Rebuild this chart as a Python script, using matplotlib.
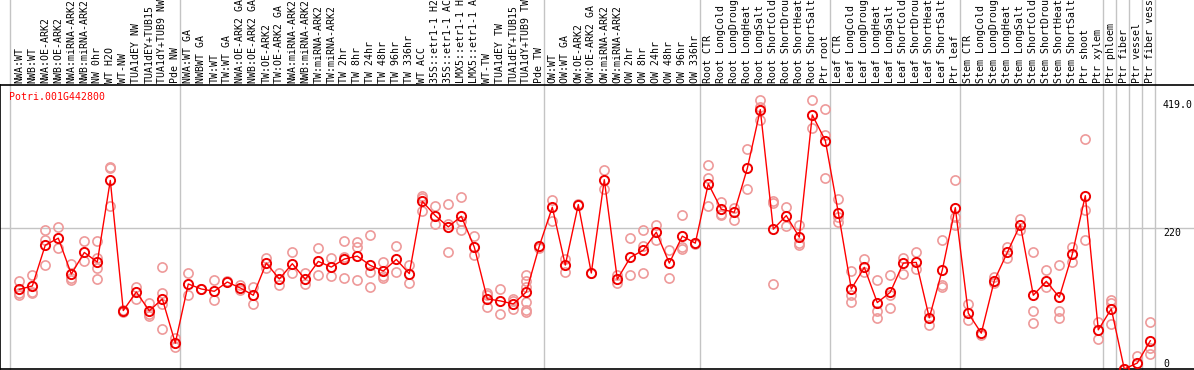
import matplotlib
matplotlib.use("Agg")
import matplotlib.pyplot as plt
import matplotlib.transforms as mtrans

# sample names, left to right (long names cut as in the source chart)
samples = [
    "NWA:WT", "NWB:WT", "NWA:OE-ARK2", "NWB:OE-ARK2", "NWA:miRNA-ARK2",
    "NWB:miRNA-ARK2", "NW 0hr", "WT H2O", "WT-NW", "TUA1dEY NW",
    "TUA1dEY+TUB15", "TUA1dY+TUB9 NW", "Pde NW", "NWA:WT GA", "NWBWT GA",
    "TW:WT", "TW:WT GA", "NWA:OE-ARK2 GA", "NWB:OE-ARK2 GA", "TW:OE-ARK2",
    "TW:OE-ARK2 GA", "NWA:miRNA-ARK2", "NWB:miRNA-ARK2", "TW:miRNA-ARK2",
    "TW:miRNA-ARK2", "TW 2hr", "TW 8hr", "TW 24hr", "TW 48hr", "TW 96hr",
    "TW 336hr", "WT ACC", "35S::etr1-1 H2", "35S::etr1-1 AC",
    "LMX5::etr1-1 H", "LMX5::etr1-1 A", "WT-TW", "TUA1dEY TW",
    "TUA1dEY+TUB15", "TUA1dY+TUB9 TW", "Pde TW", "OW:WT", "OW:WT GA",
    "OW:OE-ARK2", "OW:OE-ARK2 GA", "OW:miRNA-ARK2", "OW:miRNA-ARK2",
    "OW 2hr", "OW 8hr", "OW 24hr", "OW 48hr", "OW 96hr", "OW 336hr",
    "Root CTR", "Root LongCold", "Root LongDroug", "Root LongHeat",
    "Root LongSalt", "Root ShortCold", "Root ShortDrou", "Root ShortHeat",
    "Root ShortSalt", "Ptr root", "Leaf CTR", "Leaf LongCold",
    "Leaf LongDroug", "Leaf LongHeat", "Leaf LongSalt", "Leaf ShortCold",
    "Leaf ShortDrou", "Leaf ShortHeat", "Leaf ShortSalt", "Ptr leaf",
    "Stem CTR", "Stem LongCold", "Stem LongDroug", "Stem LongHeat",
    "Stem LongSalt", "Stem ShortCold", "Stem ShortDrou", "Stem ShortHeat",
    "Stem ShortSalt", "Ptr shoot", "Ptr xylem", "Ptr phloem", "Ptr fiber",
    "Ptr vessel", "Ptr fiber vess",
]

# median expression per sample
medians = [
    124.3, 129.5, 193.2, 204.1, 148.1, 181.8, 166.8, 294.2, 91.2, 120.2,
    90.7, 109.3, 40.4, 132.6, 124.8, 121.2, 135.7, 126.4, 115.0, 165.2,
    140.4, 164.2, 139.9, 167.8, 159.0, 171.5, 176.1, 161.6, 152.8, 170.9,
    148.7, 261.6, 239.3, 221.7, 238.3, 190.1, 109.3, 106.2, 101.5, 120.2,
    191.7, 252.3, 162.1, 256.4, 149.7, 295.3, 139.9, 174.0, 185.4, 213.4,
    165.2, 207.2, 196.3, 289.0, 249.2, 244.5, 312.9, 404.6, 218.1, 239.3,
    205.6, 396.3, 356.4, 244.0, 124.8, 158.5, 103.6, 119.7, 165.2, 166.3,
    79.8, 154.4, 251.7, 87.0, 55.9, 137.8, 181.8, 225.3, 115.0, 136.8,
    111.9, 179.2, 270.4, 61.1, 93.8, 0.0, 9.3, 44.0,
]

# individual replicates per sample
replicates = [
    [137.3, 118.1, 115.5], [146.6, 120.7, 119.1], [216.5, 201.0, 162.1],
    [221.2, 188.0], [163.7, 141.4, 138.8], [198.9, 167.8],
    [198.9, 172.5, 157.0, 139.9], [315.0, 313.9, 253.8], [92.2, 89.6],
    [128.5, 109.3], [102.6, 86.0, 83.4], [159.0, 119.1, 101.5, 62.7],
    [48.2, 34.2], [149.7, 115.5], [124.3], [138.8, 107.7], [137.8],
    [131.1, 123.3], [127.4, 101.0], [173.5, 157.0], [149.2, 131.1],
    [181.8, 149.7], [149.2, 132.1], [188.6, 146.1], [173.5, 145.0],
    [199.4, 175.1, 141.4], [198.4, 190.6, 138.3], [208.8, 150.7, 127.9],
    [166.8, 145.0, 141.4], [191.1, 150.7], [162.7, 133.6],
    [269.4, 267.3, 246.6], [253.8, 226.9], [256.9, 226.9, 181.8],
    [267.8, 230.5, 216.5], [207.2, 177.7], [118.1, 115.0, 97.4],
    [124.3, 86.0], [108.8, 106.2, 93.2],
    [146.1, 137.8, 128.5, 104.6, 92.2, 88.6], [190.6, 188.0],
    [263.1, 230.5], [172.0, 151.8], [256.9], [149.7], [309.8, 280.2],
    [146.6, 133.6], [203.6, 146.1], [216.5, 191.7, 149.7], [225.3, 200.5],
    [184.9, 141.4], [240.9, 190.6, 187.5], [196.8, 195.3],
    [317.5, 298.4, 253.8], [260.0, 242.4, 239.8], [251.7, 232.1],
    [343.4, 281.3], [419.0, 409.2, 388.5], [261.6, 259.5, 132.1],
    [252.3, 223.8], [224.3, 196.8, 193.7], [419.0, 375.6],
    [405.6, 365.2, 297.3], [264.7, 237.2, 229.5], [152.8, 115.5, 104.6],
    [171.5, 151.8], [138.8, 90.1, 80.3], [146.6, 115.5, 94.8],
    [173.5, 148.1], [181.8, 155.9], [89.6, 68.4], [202.0, 131.1, 127.4],
    [295.3, 237.2, 224.3], [101.0, 76.7], [53.4], [144.0, 134.7],
    [190.1, 172.5], [233.6, 217.6], [181.8, 90.7, 71.5], [153.8, 128.5],
    [162.1, 90.7, 80.3], [190.6, 167.3], [359.0, 248.6, 202.0],
    [73.6, 47.1], [107.7, 102.6, 69.9], [0.0, 0.0], [20.7],
    [73.0, 32.6, 23.3],
]

gene = "Potri.001G442800"
ytick_vals = [419.0, 220, 0]
ytick_text = ["419.0", "220", "0"]
# gridlines after these sample indices
group_ends = [12, 40, 52, 62, 72, 83, 84, 85, 86, 87]

W, H = 1194, 370
fig = plt.figure(figsize=(W / 100, H / 100), dpi=100)
ax_top, ax_bot = 85, 369
ax = fig.add_axes([0, (H - ax_bot) / H, 1, (ax_bot - ax_top) / H])

mono = "DejaVu Sans Mono"
fs = 7.1
grid_c = "#c4c4c4"

x = list(range(len(samples)))
ax.set_xlim(-19.3 / 13, (W - 19.3) / 13)
ax.set_ylim(0, 443)

# vertical separators run up through the label area
ext = ax_bot / (ax_bot - ax_top)
for g in [-0.72] + [e + 0.36 for e in group_ends]:
    ax.axvline(g, ymin=0, ymax=ext, color=grid_c, lw=1, clip_on=False, zorder=1)
ax.axhline(220, color=grid_c, lw=1, zorder=1)

# replicates
for i, reps in enumerate(replicates):
    ax.plot([i] * len(reps), reps, ls="none", marker="o", ms=6.6, mfc="none",
            mec="#ee9a9a", mew=1.2, zorder=2)

ax.plot(x, medians, color="#ff0000", lw=1, marker="o", ms=6.6, mfc="none",
        mec="#ee0000", mew=1.4, zorder=3)

# sample labels above the frame
lbl_tr = mtrans.blended_transform_factory(ax.transData, ax.transAxes)
off = mtrans.offset_copy(lbl_tr, fig=fig, x=0, y=2, units="dots")
for i, s in enumerate(samples):
    ax.text(i, 1, s, transform=off, rotation=90, ha="center", va="bottom",
            family=mono, fontsize=fs, color="black", clip_on=False)

# value labels on the right
rt = mtrans.blended_transform_factory(ax.transAxes, ax.transData)
for v, t in zip(ytick_vals, ytick_text):
    ax.text(1163 / W, v, t, transform=rt, ha="left",
            va="bottom" if v == 0 else "top", family=mono, fontsize=fs,
            color="black")

ax.text(9 / W, (ax_bot - 97) / (ax_bot - ax_top), gene, transform=ax.transAxes,
        ha="left", va="center", family=mono, fontsize=fs, color="#ff0000")

ax.set_xticks([])
ax.set_yticks([])
for side in ["top", "bottom", "left"]:
    ax.spines[side].set_color("black")
    ax.spines[side].set_linewidth(1.2)
ax.spines["right"].set_visible(False)

fig.savefig("out.png", dpi=100)
